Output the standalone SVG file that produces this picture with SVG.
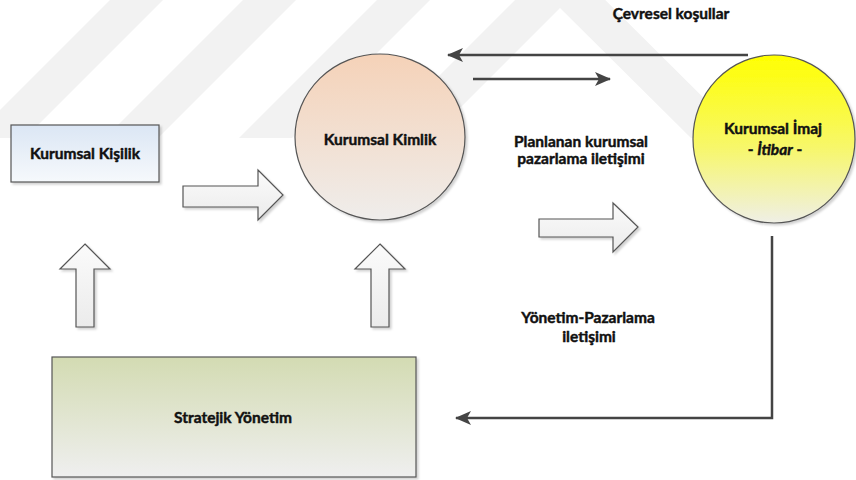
<svg xmlns="http://www.w3.org/2000/svg" width="856" height="480" viewBox="0 0 856 480">
  <defs>
    <style>
      .lbl { font-family: Lato, "Liberation Sans", sans-serif; font-weight: bold; font-size: 15.5px; fill: #111; stroke: #111; stroke-width: 0.45; text-anchor: middle; }
      .node-line { stroke: #555; stroke-width: 1.2; }
      .block { fill: url(#gBlock); stroke: #555; stroke-width: 1.2; stroke-linejoin: miter; }
      .conn { fill: none; stroke: #444; stroke-width: 2.5; }
      .wm { fill: #f2f2f2; }
    </style>
    <linearGradient id="gPerson" x1="0" y1="0" x2="0" y2="1">
      <stop offset="0" stop-color="#dbe6f4"/>
      <stop offset="1" stop-color="#f6f9fc"/>
    </linearGradient>
    <linearGradient id="gIdentity" x1="0" y1="0" x2="0" y2="1">
      <stop offset="0" stop-color="#f5d2b8"/>
      <stop offset="1" stop-color="#efedeb"/>
    </linearGradient>
    <linearGradient id="gImage" x1="0" y1="0" x2="0" y2="1">
      <stop offset="0" stop-color="#ffff00"/>
      <stop offset="0.55" stop-color="#f7f76a"/>
      <stop offset="1" stop-color="#efefe6"/>
    </linearGradient>
    <linearGradient id="gStrategy" x1="0" y1="0" x2="0" y2="1">
      <stop offset="0" stop-color="#d3dbb2"/>
      <stop offset="1" stop-color="#efefef"/>
    </linearGradient>
    <linearGradient id="gBlock" x1="0" y1="0" x2="0" y2="1">
      <stop offset="0" stop-color="#fbfbfb"/>
      <stop offset="1" stop-color="#ebebeb"/>
    </linearGradient>
    <filter id="shadow" x="-10%" y="-10%" width="125%" height="125%">
      <feDropShadow dx="2" dy="2" stdDeviation="1.2" flood-color="#000" flood-opacity="0.18"/>
    </filter>
    <marker id="head" viewBox="0 0 16 14" refX="15" refY="7" markerWidth="16" markerHeight="14" markerUnits="userSpaceOnUse" orient="auto">
      <path d="M0,0 L16,7 L0,14 L4,7 Z" fill="#444"/>
    </marker>
    <clipPath id="wmClip">
      <rect x="0" y="0" width="856" height="138"/>
    </clipPath>
  </defs>

  <rect width="856" height="480" fill="#fff"/>

  <!-- background stripes -->
  <g id="backdrop" clip-path="url(#wmClip)">
    <polygon class="wm" points="110,0 163,0 23,140 -30,140"/>
    <polygon class="wm" points="243,0 296,0 156,140 103,140"/>
    <polygon class="wm" points="377,0 430,0 290,140 237,140"/>
    <polygon class="wm" points="375,140 560,-45 746,140 693,140 560,8 428,140"/>
  </g>

  <!-- connectors -->
  <g id="connectors">
    <line class="conn" x1="748" y1="55" x2="448" y2="55" marker-end="url(#head)"/>
    <line class="conn" x1="473" y1="79" x2="610" y2="79" marker-end="url(#head)"/>
    <polyline class="conn" points="772,236 772,418 456,418" marker-end="url(#head)"/>
    <g filter="url(#shadow)">
      <polygon class="block" points="183,186 258,186 258,170 283,195 258,220 258,207 183,207"/>
      <polygon class="block" points="539,219 613,219 613,203 638,227 613,252 613,237 539,237"/>
      <polygon class="block" points="85,244 110,269 94,269 94,327 76,327 76,269 60,269"/>
      <polygon class="block" points="380,244 405,269 389,269 389,327 371,327 371,269 355,269"/>
    </g>
  </g>

  <!-- nodes -->
  <g id="kurumsal-kisilik">
    <rect x="11" y="125" width="148" height="57" fill="url(#gPerson)" class="node-line" filter="url(#shadow)"/>
    <text class="lbl" x="85" y="159">Kurumsal Kişilik</text>
  </g>

  <g id="kurumsal-kimlik">
    <ellipse cx="380" cy="137" rx="85" ry="83" fill="url(#gIdentity)" class="node-line" filter="url(#shadow)"/>
    <text class="lbl" x="380" y="145">Kurumsal Kimlik</text>
  </g>

  <g id="kurumsal-imaj">
    <ellipse cx="774" cy="139" rx="81" ry="84" fill="url(#gImage)" class="node-line" filter="url(#shadow)"/>
    <text class="lbl" x="773" y="134">Kurumsal İmaj</text>
    <text class="lbl" x="775" y="155">- <tspan font-style="italic">İtibar</tspan> -</text>
  </g>

  <g id="stratejik-yonetim">
    <rect x="52" y="357" width="364" height="120" fill="url(#gStrategy)" class="node-line" filter="url(#shadow)"/>
    <text class="lbl" x="233" y="423">Stratejik Yönetim</text>
  </g>

  <!-- connector labels -->
  <g id="labels">
    <text class="lbl" x="671" y="19">Çevresel koşullar</text>
    <text class="lbl" x="581" y="147">Planlanan kurumsal</text>
    <text class="lbl" x="581" y="164">pazarlama iletişimi</text>
    <text class="lbl" x="588" y="323">Yönetim-Pazarlama</text>
    <text class="lbl" x="589" y="342">iletişimi</text>
  </g>
</svg>
